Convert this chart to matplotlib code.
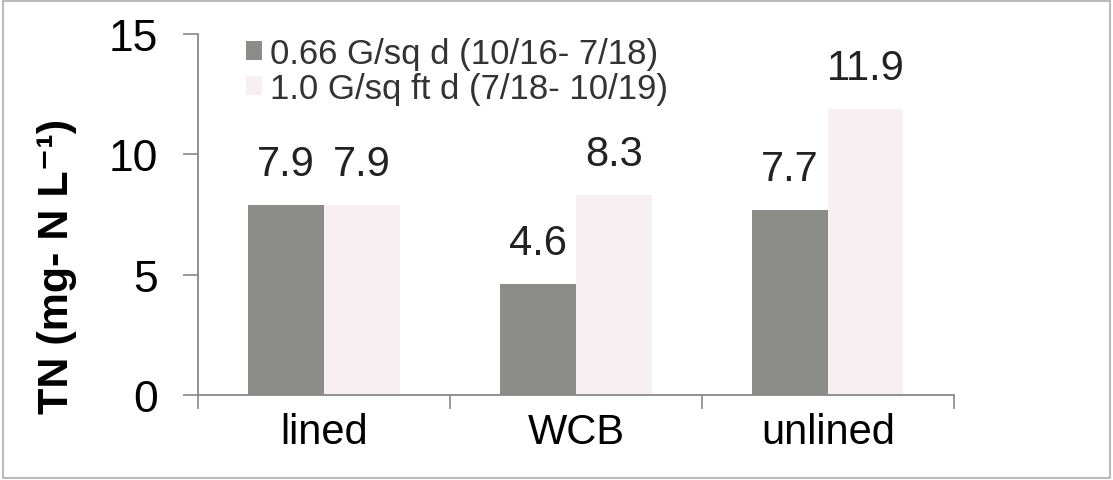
import numpy as np
import matplotlib.pyplot as plt
from matplotlib.patches import Rectangle

# data
categories = ['lined', 'WCB', 'unlined']
series_labels = ['0.66 G/sq d (10/16- 7/18)', '1.0 G/sq ft d (7/18- 10/19)']
low_rate = [7.9, 4.6, 7.7]
high_rate = [7.9, 8.3, 11.9]

plt.rcParams['font.family'] = ['Liberation Sans', 'DejaVu Sans']

fig = plt.figure(figsize=(11.13, 4.81), dpi=100)
ax = fig.add_axes([0.178, 0.177, 0.679, 0.75])

x = np.arange(len(categories))
width = 0.3
colors = ['#8c8c88', '#f7eff1']

bars_lo = ax.bar(x - width / 2, low_rate, width, color=colors[0], label=series_labels[0])
bars_hi = ax.bar(x + width / 2, high_rate, width, color=colors[1], label=series_labels[1])

# value labels above each bar
for bars, vals in [(bars_lo, low_rate), (bars_hi, high_rate)]:
    for b, v in zip(bars, vals):
        ax.annotate(f'{v:.1f}', (b.get_x() + b.get_width() / 2, v),
                    xytext=(0, 15), textcoords='offset points',
                    ha='center', va='bottom', fontsize=30, color='#222222')

ax.set_xlim(-0.5, len(categories) - 0.5)
ax.set_ylim(0, 15)
ax.set_yticks([0, 5, 10, 15])
ax.set_xticks(x)
ax.set_xticklabels(categories)
ax.set_xticks(np.arange(len(categories) + 1) - 0.5, minor=True)
ax.tick_params(axis='x', which='major', length=0, pad=12, labelsize=30)
ax.tick_params(axis='x', which='minor', length=10, color='#888888', width=1.2)
ax.tick_params(axis='y', length=11, color='#888888', width=1.2, pad=18, labelsize=32)

for side in ['top', 'right']:
    ax.spines[side].set_visible(False)
for side in ['left', 'bottom']:
    ax.spines[side].set_color('#888888')
    ax.spines[side].set_linewidth(1.3)

ax.set_ylabel('TN (mg- N L⁻¹)', fontsize=31, fontweight='bold')
ax.yaxis.set_label_coords(-0.16, 0.36)

leg = ax.legend(loc='upper left', bbox_to_anchor=(0.045, 1.03), frameon=False,
                fontsize=25, handlelength=0.45, handleheight=0.45, handletextpad=0.25,
                labelspacing=0.05, borderaxespad=0)
for t in leg.get_texts():
    t.set_color('#333333')

# thin border around the whole picture
fig.patches.append(Rectangle((0.003, 0.005), 0.994, 0.99, transform=fig.transFigure,
                             fill=False, edgecolor='#bbbbbb', linewidth=1.5))

fig.savefig('out.png', dpi=100)
